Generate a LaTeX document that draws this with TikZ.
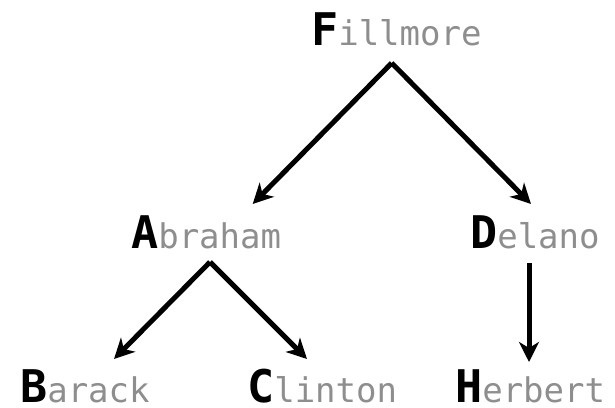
\documentclass[tikz,border=0pt]{standalone}
\usepackage{fontspec}
\setmonofont{DejaVu Sans Mono}
\usepackage{tikz}
\usetikzlibrary{arrows.meta}

\definecolor{namegray}{RGB}{142,142,142}
\newcommand{\tname}[2]{{\fontsize{45}{45}\selectfont\bfseries #1}{\color{namegray}#2}}

\begin{document}
\begin{tikzpicture}[x=1pt,y=-1pt,every node/.style={inner sep=0pt,anchor=base west}]

\tikzstyle{person}=[font=\ttfamily\fontsize{34}{34}\selectfont];
\tikzstyle{link}=[line width=5pt,-{Stealth[length=20pt,width=20pt,inset=6pt]}];

\useasboundingbox (0,0) rectangle (615,407);

\node[person] (f) at (311,45)  {\tname{F}{illmore}};
\node[person] (a) at (131,248) {\tname{A}{braham}};
\node[person] (d) at (470,248) {\tname{D}{elano}};
\node[person] (b) at (20,402)  {\tname{B}{arack}};
\node[person] (c) at (247,402) {\tname{C}{linton}};
\node[person] (h) at (455,402) {\tname{H}{erbert}};

% where the arrows leave and reach the names
\coordinate (f-out) at (391.7,63);
\coordinate (a-out) at (210,262);
\coordinate (d-out) at (529,263);
\coordinate (a-in) at (252.7,204);
\coordinate (d-in) at (531,204);
\coordinate (b-in) at (114,359);
\coordinate (c-in) at (307,359);
\coordinate (h-in) at (529,362);

\draw[link] (f-out) -- (a-in);
\draw[link] (f-out) -- (d-in);
\draw[link] (a-out) -- (b-in);
\draw[link] (a-out) -- (c-in);
\draw[link] (d-out) -- (h-in);

\end{tikzpicture}
\end{document}
